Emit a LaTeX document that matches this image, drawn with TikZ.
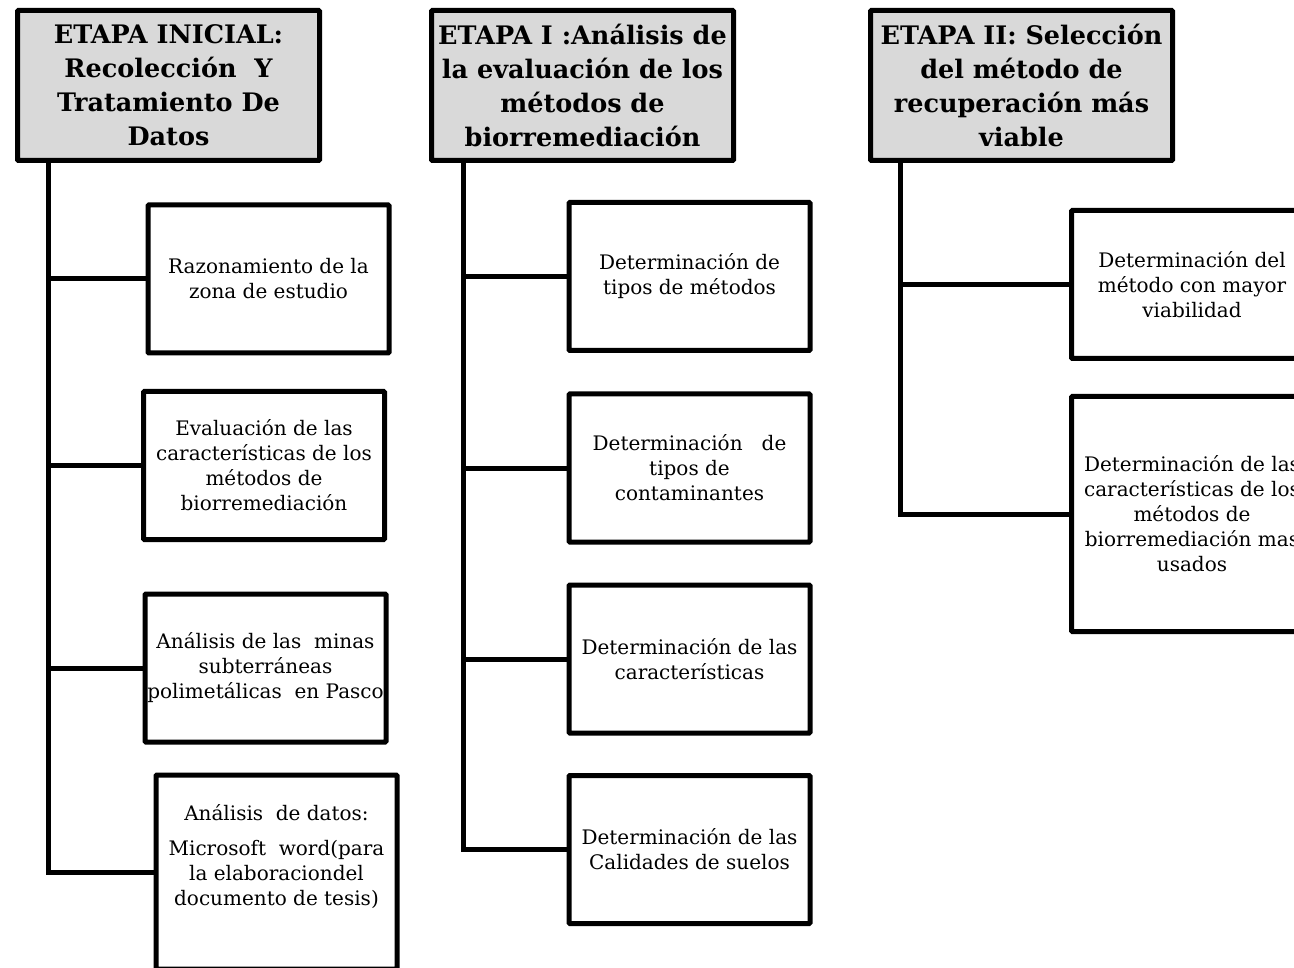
\documentclass[tikz,border=0pt]{standalone}
\usepackage{fontspec}
\setmainfont{DejaVu Serif}
\usetikzlibrary{positioning,calc}
\definecolor{headgray}{HTML}{D9D9D9}

\begin{document}
\begin{tikzpicture}[x=1pt, y=-1pt,
    header/.style={draw, rectangle, line width=5pt, fill=headgray, rounded corners=1pt, minimum width=302pt, minimum height=150pt, inner xsep=1pt, align=center, font=\bfseries\fontsize{25.5}{34}\selectfont},
    task/.style={draw, rectangle, line width=5pt, fill=white, rounded corners=1pt, minimum width=241pt, minimum height=148pt, inner xsep=1pt, align=center, font=\fontsize{20}{25}\selectfont},
    link/.style={line width=5pt, draw=black},
]

\clip (0,0) rectangle (1294,968);

% Stage headers
\node[header] (head1) at (168.5, 85.5) {ETAPA INICIAL:\\ Recolección~ Y\\ Tratamiento De\\ Datos};
\node[header] (head2) at (582.5, 85.5) {ETAPA I :Análisis de\\ la evaluación de los\\ métodos de\\ biorremediación};
\node[header] (head3) at (1021.5, 85.5) {ETAPA II: Selección\\ del método de\\ recuperación más\\ viable};

% Trunk start points
\coordinate (trunk1) at ($(head1.south west)+(33,0)$);
\coordinate (trunk2) at ($(head2.south west)+(34,0)$);
\coordinate (trunk3) at ($(head3.south west)+(32,0)$);

% Etapa inicial tasks
\node[task] (t11) at (268.5, 279) {Razonamiento de la\\ zona de estudio};
\node[task] (t12) at (264, 465.5) {Evaluación de las\\ características de los\\ métodos de\\ biorremediación};
\node[task] (t13) at (265.5, 668) {Análisis de las~ minas\\ subterráneas\\ polimetálicas~ en Pasco};
\node[task, minimum height=194pt] (t14) at (276.5, 872) {Análisis~ de datos:\\[10pt] Microsoft~ word(para\\ la elaboraciondel\\ documento de tesis)\\[10pt] \mbox{}};

% Etapa I tasks
\node[task] (t21) at (689.5, 276.5) {Determinación de\\ tipos de métodos};
\node[task] (t22) at (689.5, 468) {Determinación~~ de\\ tipos de\\ contaminantes};
\node[task] (t23) at (689.5, 659) {Determinación de las\\ características};
\node[task] (t24) at (689.5, 849.5) {Determinación de las\\ Calidades de suelos};

% Etapa II tasks
\node[task] (t31) at (1192, 284.5) {Determinación del\\ método con mayor\\ viabilidad};
\node[task, minimum height=235pt] (t32) at (1192, 514) {Determinación de las\\ características de los\\ métodos de\\ biorremediación mas\\ usados};

% Branches
\draw[link] (trunk1) |- (t11.west);
\draw[link] (trunk1) |- (t12.west);
\draw[link] (trunk1) |- (t13.west);
\draw[link] (trunk1) |- (t14.west);

\draw[link] (trunk2) |- (t21.west);
\draw[link] (trunk2) |- (t22.west);
\draw[link] (trunk2) |- (t23.west);
\draw[link] (trunk2) |- (t24.west);

\draw[link] (trunk3) |- (t31.west);
\draw[link] (trunk3) |- (t32.west);

\end{tikzpicture}
\end{document}
